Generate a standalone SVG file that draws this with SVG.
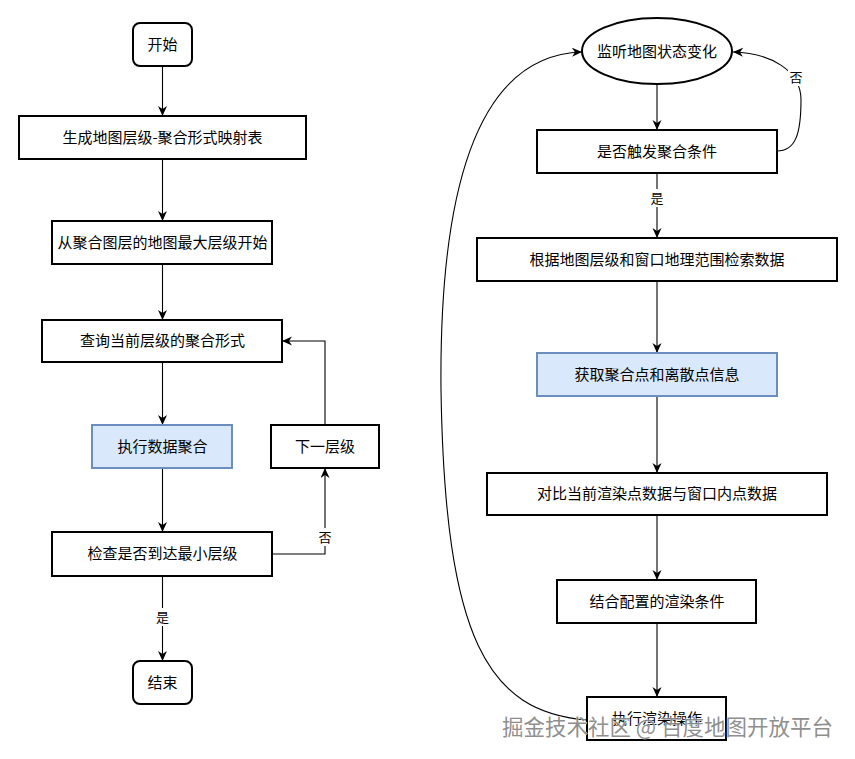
<svg xmlns="http://www.w3.org/2000/svg" width="855" height="759" viewBox="0 0 855 759">
<style>
.b{fill:#fff;stroke:#000;stroke-width:2}
.h{fill:#dae8fc;stroke:#6c8ebf;stroke-width:2}
.t{font-family:"Noto Sans CJK SC","Noto Sans",sans-serif;font-size:15px;fill:#000;text-anchor:middle}
.l{font-family:"Noto Sans CJK SC","Noto Sans",sans-serif;font-size:13px;fill:#000;text-anchor:middle}
.c{fill:none;stroke:#000;stroke-width:1.1}
.w{font-family:"Noto Sans CJK SC","Noto Sans",sans-serif;font-size:21.5px;fill:#808080;fill-opacity:0.9;stroke:#fff;stroke-width:0.6;paint-order:stroke}
</style>
<defs>
<marker id="a" markerUnits="userSpaceOnUse" markerWidth="12" markerHeight="10" refX="10" refY="4.5" orient="auto">
<path d="M0,0 L10,4.5 L0,9 L3,4.5 Z" fill="#000"/>
</marker>
</defs>
<rect width="855" height="759" fill="#fff"/>
<g id="connectors">
<path class="c" d="M162.5 66 V116" marker-end="url(#a)"/>
<path class="c" d="M162.5 159 V221" marker-end="url(#a)"/>
<path class="c" d="M162.5 264 V320" marker-end="url(#a)"/>
<path class="c" d="M162.5 362 V425" marker-end="url(#a)"/>
<path class="c" d="M162.5 468 V532" marker-end="url(#a)"/>
<path class="c" d="M162.5 576 V661" marker-end="url(#a)"/>
<path class="c" d="M272 554 H325 V468" marker-end="url(#a)"/>
<path class="c" d="M325 425 V341 H282" marker-end="url(#a)"/>
<path class="c" d="M657 84 V130" marker-end="url(#a)"/>
<path class="c" d="M657 173 V238" marker-end="url(#a)"/>
<path class="c" d="M657 281 V353" marker-end="url(#a)"/>
<path class="c" d="M657 396 V473" marker-end="url(#a)"/>
<path class="c" d="M657 515 V580" marker-end="url(#a)"/>
<path class="c" d="M657 623 V697" marker-end="url(#a)"/>
<path class="c" d="M777 151 C795 151 801 135 801 100 C801 70 770 53 733 52" marker-end="url(#a)"/>
<path class="c" d="M587 720 C488 712 445 640 441 390 C439 180 480 55 582 52" marker-end="url(#a)"/>
<rect x="154" y="608" width="17" height="18" fill="#fff"/>
<text class="l" x="162.5" y="622">是</text>
<rect x="317" y="528" width="17" height="18" fill="#fff"/>
<text class="l" x="325" y="542">否</text>
<rect x="648" y="189" width="17" height="18" fill="#fff"/>
<text class="l" x="657" y="203">是</text>
<rect x="788" y="68" width="17" height="18" fill="#fff"/>
<text class="l" x="796" y="82">否</text>
</g>
<g id="n1"><rect class="b" x="133" y="23" width="59" height="43" rx="7"/><text class="t" x="162.5" y="50">开始</text></g>
<g id="n2"><rect class="b" x="19" y="116" width="287" height="43"/><text class="t" x="162.5" y="143">生成地图层级-聚合形式映射表</text></g>
<g id="n3"><rect class="b" x="52" y="221" width="220" height="43"/><text class="t" x="162.5" y="248">从聚合图层的地图最大层级开始</text></g>
<g id="n4"><rect class="b" x="42" y="320" width="240" height="42"/><text class="t" x="162.5" y="346">查询当前层级的聚合形式</text></g>
<g id="n5"><rect class="h" x="92" y="425" width="140" height="43"/><text class="t" x="162.5" y="452">执行数据聚合</text></g>
<g id="n6"><rect class="b" x="271" y="425" width="108" height="43"/><text class="t" x="325" y="452">下一层级</text></g>
<g id="n7"><rect class="b" x="52" y="532" width="220" height="44"/><text class="t" x="162.5" y="559">检查是否到达最小层级</text></g>
<g id="n8"><rect class="b" x="133" y="661" width="59" height="43" rx="7"/><text class="t" x="162.5" y="688">结束</text></g>
<g id="r1"><ellipse class="b" cx="657" cy="51" rx="75" ry="33"/><text class="t" x="657" y="57">监听地图状态变化</text></g>
<g id="r2"><rect class="b" x="537" y="130" width="240" height="43"/><text class="t" x="657" y="157">是否触发聚合条件</text></g>
<g id="r3"><rect class="b" x="477" y="238" width="360" height="43"/><text class="t" x="657" y="265">根据地图层级和窗口地理范围检索数据</text></g>
<g id="r4"><rect class="h" x="537" y="353" width="240" height="43"/><text class="t" x="657" y="380">获取聚合点和离散点信息</text></g>
<g id="r5"><rect class="b" x="487" y="473" width="340" height="42"/><text class="t" x="657" y="499">对比当前渲染点数据与窗口内点数据</text></g>
<g id="r6"><rect class="b" x="557" y="580" width="199" height="43"/><text class="t" x="657" y="607">结合配置的渲染条件</text></g>
<g id="r7"><rect class="b" x="587" y="697" width="139" height="43"/><text class="t" x="657" y="724">执行渲染操作</text></g>
<text class="w" x="502" y="735" textLength="331" lengthAdjust="spacing">掘金技术社区 @ 百度地图开放平台</text>
</svg>
